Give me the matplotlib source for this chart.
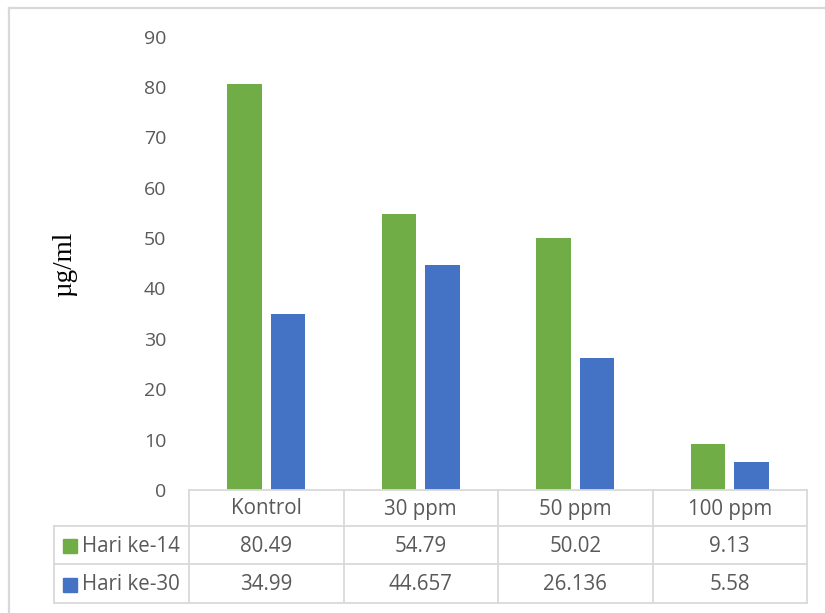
import matplotlib
matplotlib.use("Agg")
import matplotlib.pyplot as plt
from matplotlib.lines import Line2D
from matplotlib.patches import Rectangle

# Data
categories = ["Kontrol", "30 ppm", "50 ppm", "100 ppm"]
series_names = ["Hari ke-14", "Hari ke-30"]
hari_14 = [80.49, 54.79, 50.02, 9.13]
hari_30 = [34.99, 44.657, 26.136, 5.58]
y_ticks = [0, 10, 20, 30, 40, 50, 60, 70, 80, 90]
y_label = "µg/ml"

GREEN = "#70AD47"
BLUE = "#4472C4"
TEXT = "#595959"
GRID = "#D9D9D9"
FONT = "Open Sans"

W, H = 825, 613
fig = plt.figure(figsize=(W / 100, H / 100), dpi=100)

# Pixel-space geometry of plot area and data table
x_left, x_right = 189, 807
y_zero, y_top = 490, 36.5
tab_left = 54
row_lines = [490, 526, 564, 603]

ax = fig.add_axes([x_left / W, (H - y_zero) / H,
                   (x_right - x_left) / W, (y_zero - y_top) / H])
x = list(range(len(categories)))
bw = 0.223
off = 0.142
ax.bar([i - off for i in x], hari_14, width=bw, color=GREEN, zorder=3)
ax.bar([i + off for i in x], hari_30, width=bw, color=BLUE, zorder=3)
ax.set_xlim(-0.5, len(categories) - 0.5)
ax.set_ylim(0, 90)
ax.set_yticks(y_ticks)
ax.set_yticklabels([str(t) for t in y_ticks], fontfamily=FONT, fontsize=14, color=TEXT)
ax.tick_params(axis="y", length=0, pad=16.5)
ax.set_xticks([])
for s in ax.spines.values():
    s.set_visible(False)
ax.patch.set_alpha(0)

# Overlay in pixel coordinates for frame and data table
ov = fig.add_axes([0, 0, 1, 1], zorder=-1)
ov.set_xlim(0, W)
ov.set_ylim(H, 0)
ov.axis("off")

# Chart frame
ov.add_line(Line2D([9, W + 5], [7.5, 7.5], color=GRID, lw=1.6))
ov.add_line(Line2D([9, 9], [7.5, H + 5], color=GRID, lw=1.6))

ov2 = fig.add_axes([0, 0, 1, 1], zorder=5)
ov2.set_xlim(0, W)
ov2.set_ylim(H, 0)
ov2.axis("off")
ov2.patch.set_alpha(0)

col_w = (x_right - x_left) / len(categories)
col_edges = [x_left + k * col_w for k in range(len(categories) + 1)]
lw = 1.3
# horizontal lines
ov2.add_line(Line2D([x_left, x_right], [row_lines[0]] * 2, color=GRID, lw=lw))
for yy in row_lines[1:]:
    ov2.add_line(Line2D([tab_left, x_right], [yy] * 2, color=GRID, lw=lw))
# vertical lines
ov2.add_line(Line2D([tab_left, tab_left], [row_lines[1], row_lines[3]], color=GRID, lw=lw))
for xx in col_edges:
    ov2.add_line(Line2D([xx, xx], [row_lines[0], row_lines[3]], color=GRID, lw=lw))

fs = 14.8
# header
for k, c in enumerate(categories):
    ov2.text((col_edges[k] + col_edges[k + 1]) / 2, (row_lines[0] + row_lines[1]) / 2 + 1,
             c, ha="center", va="center", fontfamily=FONT, fontsize=fs, color=TEXT)
# rows
for r, (name, vals, col) in enumerate(zip(series_names, [hari_14, hari_30], [GREEN, BLUE])):
    yc = (row_lines[r + 1] + row_lines[r + 2]) / 2 + 1
    ov2.add_patch(Rectangle((63, yc - 7), 14, 14, color=col))
    ov2.text(82, yc, name, ha="left", va="center", fontfamily=FONT, fontsize=fs, color=TEXT)
    for k, v in enumerate(vals):
        ov2.text((col_edges[k] + col_edges[k + 1]) / 2, yc, str(v),
                 ha="center", va="center", fontfamily=FONT, fontsize=fs, color=TEXT)

# y-axis title
ov2.text(65, 264, y_label, rotation=90, ha="center", va="center",
         fontfamily="Liberation Serif", fontsize=19.5, color="black")

fig.savefig("out.png", dpi=100)
